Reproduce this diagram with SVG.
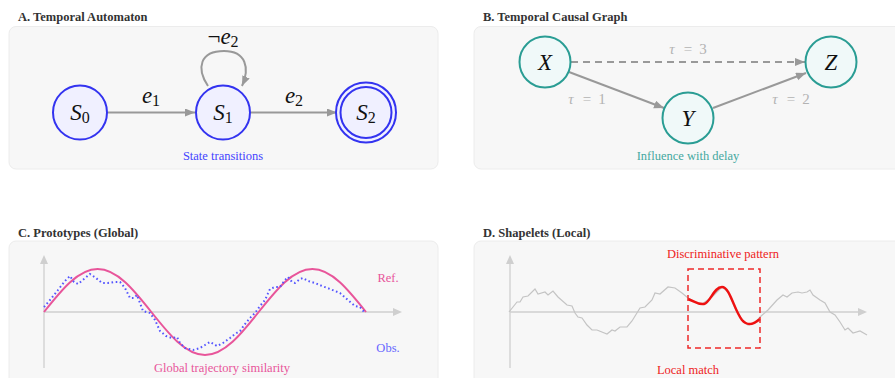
<svg xmlns="http://www.w3.org/2000/svg" width="895" height="378" viewBox="0 0 895 378">
<defs>
<marker id="ah" markerUnits="userSpaceOnUse" markerWidth="11" markerHeight="9" refX="10" refY="4" orient="auto"><path d="M0,0 L10,4 L0,8 z" fill="#999"/></marker>
<style>
.panel{fill:#f7f7f7;stroke:#ececec;stroke-width:1}
.title{font-family:"Liberation Serif",serif;font-weight:bold;font-size:12.5px;fill:#333}
.math{font-family:"Liberation Serif",serif;font-style:italic;font-size:23px;fill:#111}
.sub{font-style:normal;font-size:16px}
.tau{font-family:"Liberation Serif",serif;font-size:15px;fill:#b3b3b3}
.cap{font-family:"Liberation Serif",serif;font-size:12.5px}
.edge{fill:none;stroke:#999;stroke-width:2}
.sn{fill:#f0f0ff;stroke:#3333f0;stroke-width:2}
.cn{fill:#f0f9f9;stroke:#2a9d94;stroke-width:2}
.axis{fill:none;stroke:#cfcfcf;stroke-width:1.3}
</style>
</defs>
<text class="title" x="18" y="21">A. Temporal Automaton</text>
<text class="title" x="483" y="21">B. Temporal Causal Graph</text>
<text class="title" x="18" y="237">C. Prototypes (Global)</text>
<text class="title" x="483" y="237">D. Shapelets (Local)</text>
<rect class="panel" x="9" y="26.5" width="429" height="142.5" rx="7"/>
<rect class="panel" x="474" y="26.5" width="440" height="142.5" rx="7"/>
<rect class="panel" x="9" y="241" width="429" height="150" rx="7"/>
<rect class="panel" x="474" y="241" width="440" height="150" rx="7"/>

<g id="connectors">
<line class="edge" x1="108" y1="112.5" x2="195" y2="112.5" marker-end="url(#ah)"/>
<line class="edge" x1="251" y1="112.5" x2="337" y2="112.5" marker-end="url(#ah)"/>
<path class="edge" d="M208,86 C196,68 200,51 224,51 C246,51 250,68 242,86" marker-end="url(#ah)"/>
<line class="edge" x1="571" y1="62" x2="805" y2="62" stroke-dasharray="7 5" marker-end="url(#ah)"/>
<line class="edge" x1="569" y1="72" x2="664" y2="108" marker-end="url(#ah)"/>
<line class="edge" x1="713" y1="108" x2="806" y2="73" marker-end="url(#ah)"/>
</g>

<g id="S0"><circle class="sn" cx="80" cy="112.5" r="27"/><text class="math" x="80" y="120" text-anchor="middle">S<tspan class="sub" dy="3">0</tspan></text></g>
<g id="S1"><circle class="sn" cx="223" cy="112.5" r="27"/><text class="math" x="223" y="120" text-anchor="middle">S<tspan class="sub" dy="3">1</tspan></text></g>
<g id="S2"><circle class="sn" cx="366" cy="112.5" r="30"/><circle class="sn" cx="366" cy="112.5" r="25.5"/><text class="math" x="366" y="120" text-anchor="middle">S<tspan class="sub" dy="3">2</tspan></text></g>
<text class="math" x="151" y="103" text-anchor="middle">e<tspan class="sub" dy="3">1</tspan></text>
<text class="math" x="294" y="103" text-anchor="middle">e<tspan class="sub" dy="3">2</tspan></text>
<text class="math" x="223" y="44" text-anchor="middle"><tspan font-style="normal">¬</tspan>e<tspan class="sub" dy="3">2</tspan></text>
<text class="cap" x="223" y="160" text-anchor="middle" fill="#4444ff">State transitions</text>

<g id="X"><circle class="cn" cx="545" cy="62" r="25.5"/><text class="math" x="545" y="70" text-anchor="middle">X</text></g>
<g id="Y"><circle class="cn" cx="688" cy="118" r="25.5"/><text class="math" x="688" y="126" text-anchor="middle">Y</text></g>
<g id="Z"><circle class="cn" cx="831" cy="62" r="25.5"/><text class="math" x="831" y="70" text-anchor="middle">Z</text></g>
<text class="tau" y="54" text-anchor="middle"><tspan x="672" font-style="italic">τ</tspan><tspan x="688">=</tspan><tspan x="703">3</tspan></text>
<text class="tau" y="104" text-anchor="middle"><tspan x="571" font-style="italic">τ</tspan><tspan x="587">=</tspan><tspan x="602">1</tspan></text>
<text class="tau" y="104" text-anchor="middle"><tspan x="775" font-style="italic">τ</tspan><tspan x="791">=</tspan><tspan x="806">2</tspan></text>
<text class="cap" x="688" y="160" text-anchor="middle" fill="#44a8a0">Influence with delay</text>

<g id="plotC">
<line class="axis" x1="44" y1="368" x2="44" y2="262"/>
<path d="M40,264 L44,255 L48,264 z" fill="#cfcfcf"/>
<line class="axis" x1="44" y1="312" x2="395" y2="312"/>
<path d="M393,308 L402,312 L393,316 z" fill="#cfcfcf"/>
<path d="M44,312 C61.5,289.97 78.25,269 97.67,269 C117.09,269 133.83,289.97 151.33,312 C168.83,334.03 185.58,355 205,355 C224.42,355 241.17,334.03 258.67,312 C276.17,289.97 292.92,269 312.33,269 C331.75,269 348.5,289.97 366,312" fill="none" stroke="#e8559a" stroke-width="2"/>
<polyline points="44,307 50,300 58,290 65,281 70,276 74,282 78,284 84,279 90,274 96,278 102,283 108,283 114,282 120,282 125,288 130,298 134,298 137,295 140,303 143,311 150,313 155,320 160,331 166,336 172,338 177,337 180,343 185,348 193,350 200,348 205,345 210,342 217,346 223,343 230,338 235,334 240,331 245,324 250,318 255,313 260,306 265,300 270,289 275,287 280,287 285,280 288,277 292,282 295,283 300,279 303,278 308,281 315,283 322,286 330,289 340,293 348,300 355,306 360,307 365,313" fill="none" stroke="#5555ff" stroke-width="2" stroke-dasharray="1.6 2.6"/>
<text class="cap" x="388" y="282" text-anchor="middle" fill="#e8559a">Ref.</text>
<text class="cap" x="388" y="352" text-anchor="middle" fill="#6666ff">Obs.</text>
<text class="cap" x="222" y="372" text-anchor="middle" fill="#e8559a">Global trajectory similarity</text>
</g>

<g id="plotD">
<line class="axis" x1="510" y1="368" x2="510" y2="262"/>
<path d="M506,264 L510,255 L514,264 z" fill="#cfcfcf"/>
<line class="axis" x1="510" y1="312" x2="860" y2="312"/>
<path d="M858,308 L867,312 L858,316 z" fill="#cfcfcf"/>
<polyline points="509,312 517,302 520,302 523,297 528,296 535,289 538,294 545,292 548,295 553,291 558,297 567,305 572,306 575,313 578,317 582,318 587,325 592,330 597,330 607,334 612,330 615,331 620,327 627,327 632,321 640,308 645,307 652,300 655,293 660,294 668,287 675,288 682,293 688,298 695,302 702,304 712,297 722,287 728,292 735,308 742,320 748,325 755,323 760,317 768,310 777,300 783,295 787,297 792,293 798,292 802,293 807,292 810,290 813,295 820,300 825,303 830,312 835,315 840,322 845,330 848,328 853,333 860,331 867,335" fill="none" stroke="#c4c4c4" stroke-width="1.2"/>
<path d="M688,299 C694,301 698,305 704,304 C710,303 714,287 722,287 C730,287 734,310 742,320 C748,327 754,324 760,319" fill="none" stroke="#ee1111" stroke-width="2.5"/>
<rect x="688" y="269" width="72" height="79" fill="none" stroke="#ee2a2a" stroke-width="1.5" stroke-dasharray="6 4"/>
<text class="cap" x="723" y="258" text-anchor="middle" fill="#ee2222">Discriminative pattern</text>
<text class="cap" x="688" y="374" text-anchor="middle" fill="#ee2222">Local match</text>
</g>
</svg>
